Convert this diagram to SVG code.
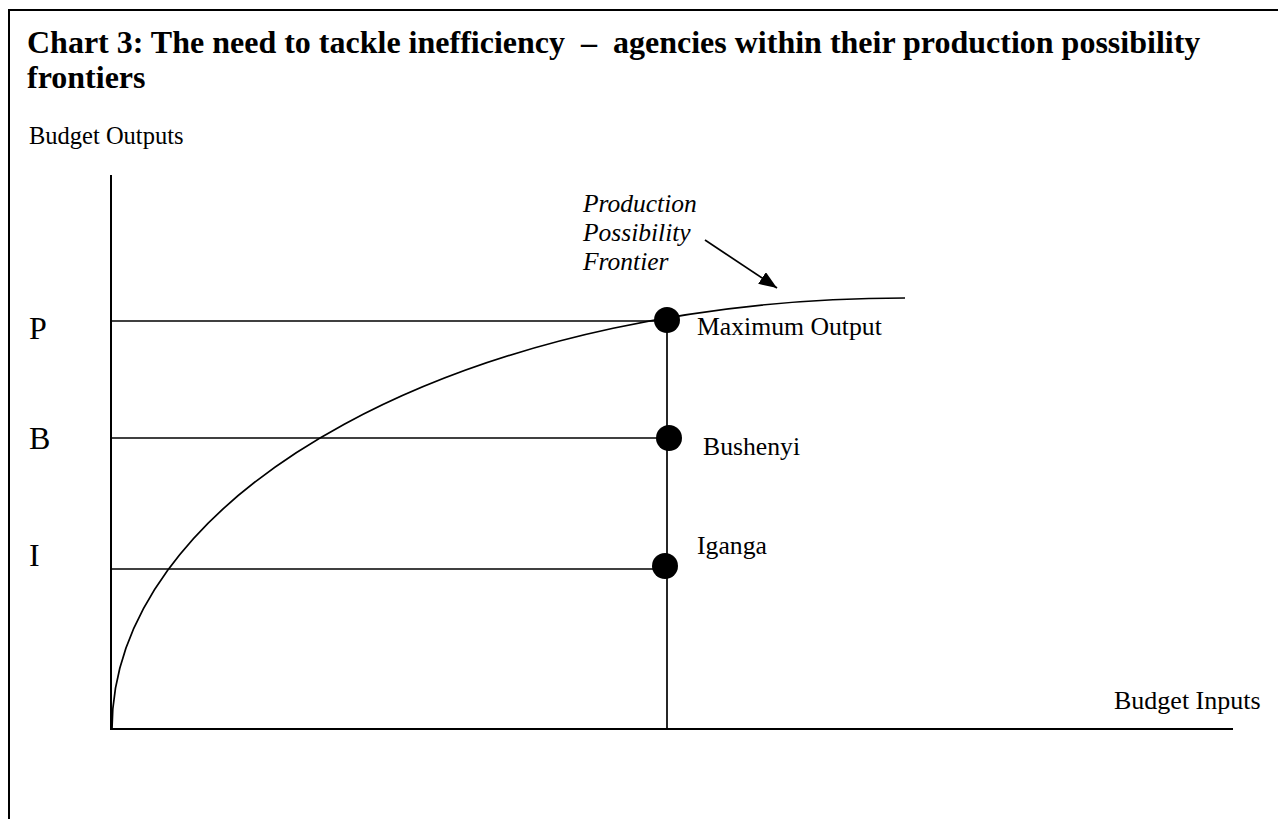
<svg xmlns="http://www.w3.org/2000/svg" width="1278" height="819" viewBox="0 0 1278 819">
  <style>
    .ln { stroke: #000; stroke-width: 1.7; fill: none; }
    .ax { stroke: #000; stroke-width: 2; fill: none; }
    .t { font-family: "Liberation Serif", "Times New Roman", serif; fill: #000; }
    .reg { font-size: 25.7px; }
    .it { font-size: 25.5px; font-style: italic; }
    .big { font-size: 32px; }
    .title { font-size: 32px; font-weight: bold; white-space: pre; }
    .dot { fill: #000; }
  </style>
  <defs>
    <marker id="ah" markerUnits="userSpaceOnUse" markerWidth="20" markerHeight="16" refX="18" refY="7" orient="auto">
      <path d="M0,0 L18,7 L0,14 Z" fill="#000"/>
    </marker>
  </defs>
  <rect x="0" y="0" width="1278" height="819" fill="#fff"/>

  <g id="frame">
    <path class="ax" d="M9,819 L9,10 L1278,10"/>
  </g>

  <g id="title">
    <text class="t title" x="27" y="53" xml:space="preserve">Chart 3: The need to tackle inefficiency  –  agencies within their production possibility</text>
    <text class="t title" x="27" y="88">frontiers</text>
  </g>

  <g id="axes">
    <path class="ax" d="M111,175 L111,729 L1233,729"/>
    <text class="t" font-size="24.5" x="29" y="144">Budget Outputs</text>
    <text class="t" font-size="26" x="1114" y="709">Budget Inputs</text>
  </g>

  <g id="connectors">
    <path class="ln" d="M111,321 L667,321"/>
    <path class="ln" d="M111,438 L667,438"/>
    <path class="ln" d="M111,569 L667,569"/>
    <path class="ln" d="M667,321 L667,729"/>
    <path class="ln" d="M112,729 A793,431 0 0 1 905,298"/>
    <path class="ln" d="M705,240 L777,288" marker-end="url(#ah)"/>
  </g>

  <g id="label-P"><text class="t big" x="29" y="339">P</text></g>
  <g id="label-B"><text class="t big" x="29" y="449">B</text></g>
  <g id="label-I"><text class="t big" x="29" y="566">I</text></g>

  <g id="ppf-label">
    <text class="t it" x="583" y="212">Production</text>
    <text class="t it" x="583" y="241">Possibility</text>
    <text class="t it" x="583" y="270">Frontier</text>
  </g>

  <g id="maximum-output">
    <circle class="dot" cx="667" cy="320" r="13"/>
    <text class="t reg" x="697" y="335">Maximum Output</text>
  </g>
  <g id="bushenyi">
    <circle class="dot" cx="669" cy="438" r="13"/>
    <text class="t reg" x="703" y="455">Bushenyi</text>
  </g>
  <g id="iganga">
    <circle class="dot" cx="665" cy="566" r="13"/>
    <text class="t reg" x="697" y="554">Iganga</text>
  </g>
</svg>
